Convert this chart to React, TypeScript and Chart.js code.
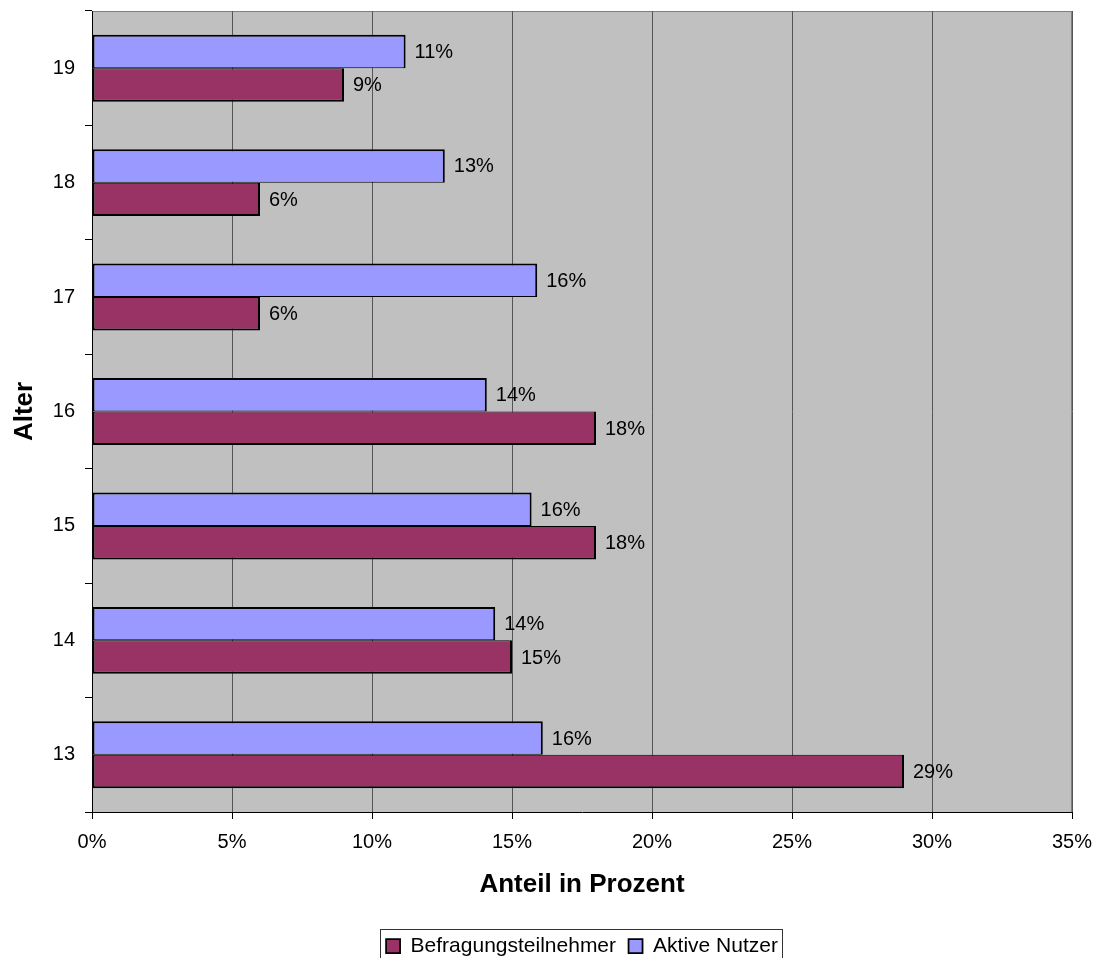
import React, { useEffect, useRef } from "react";
import { Chart, registerables } from "chart.js";

Chart.register(...registerables);

// Age groups (bottom to top) and shares in percent
const ages = ["13", "14", "15", "16", "17", "18", "19"];
const aktiveNutzer = [16.1, 14.4, 15.7, 14.1, 15.9, 12.6, 11.2];
const befragungsteilnehmer = [29.0, 15.0, 18.0, 18.0, 6.0, 6.0, 9.0];
const seriesNames = ["Aktive Nutzer", "Befragungsteilnehmer"];
const xTicks = [0, 5, 10, 15, 20, 25, 30, 35];

const FONT = "'Liberation Sans', Arial, sans-serif";

// Grey plot background plus a thin frame along the top and right edges
const plotBackground = {
  id: "plotBackground",
  beforeDraw(chart: any) {
    const { ctx, chartArea: a } = chart;
    ctx.save();
    ctx.fillStyle = "#C0C0C0";
    ctx.fillRect(a.left, a.top, a.right - a.left, a.bottom - a.top);
    ctx.strokeStyle = "#808080";
    ctx.lineWidth = 1;
    ctx.beginPath();
    ctx.moveTo(a.left, a.top + 0.5);
    ctx.lineTo(a.right, a.top + 0.5);
    ctx.moveTo(a.right - 0.5, a.top);
    ctx.lineTo(a.right - 0.5, a.bottom);
    ctx.stroke();
    ctx.restore();
  },
};

// Percentage labels to the right of each bar
const valueLabels = {
  id: "valueLabels",
  afterDatasetsDraw(chart: any) {
    const { ctx } = chart;
    ctx.save();
    ctx.font = `20px ${FONT}`;
    ctx.fillStyle = "#000";
    ctx.textAlign = "left";
    ctx.textBaseline = "middle";
    chart.data.datasets.forEach((ds: any, di: number) => {
      const meta = chart.getDatasetMeta(di);
      meta.data.forEach((bar: any, i: number) => {
        const v = ds.data[i];
        ctx.fillText(`${Math.round(v)}%`, bar.x + 9, bar.y + 1);
      });
    });
    ctx.restore();
  },
};

// Frame around the legend row
const legendFrame = {
  id: "legendFrame",
  afterDraw(chart: any) {
    const lg = chart.legend;
    if (!lg || !lg.legendHitBoxes || !lg.legendHitBoxes.length) return;
    const boxes = lg.legendHitBoxes;
    const left = Math.min(...boxes.map((b: any) => b.left)) - 6;
    const right = Math.max(...boxes.map((b: any) => b.left + b.width)) + 4;
    const { ctx } = chart;
    ctx.save();
    ctx.strokeStyle = "#333";
    ctx.lineWidth = 1;
    ctx.strokeRect(Math.round(left) + 0.5, 929.5, Math.round(right - left), 40);
    ctx.restore();
  },
};

// Drop the automatic label overhang padding so the layout padding alone sets the plot edges
const noScalePadding = (scale: any) => {
  scale.paddingTop = 0;
  scale.paddingBottom = 0;
  scale.paddingLeft = 0;
  scale.paddingRight = 0;
};

export default function App() {
  const canvasRef = useRef<HTMLCanvasElement | null>(null);

  useEffect(() => {
    if (!canvasRef.current) return;
    Chart.defaults.color = "#000";
    Chart.defaults.font.family = FONT;

    const chart = new Chart(canvasRef.current, {
      type: "bar",
      data: {
        labels: ages,
        datasets: [
          {
            label: seriesNames[0],
            data: aktiveNutzer,
            backgroundColor: "#9999FF",
            borderColor: "#000",
            borderWidth: { top: 2, right: 2, bottom: 1, left: 2 },
            borderSkipped: false,
          },
          {
            label: seriesNames[1],
            data: befragungsteilnehmer,
            backgroundColor: "#993366",
            borderColor: "#000",
            borderWidth: { top: 1, right: 2, bottom: 2, left: 2 },
            borderSkipped: false,
          },
        ],
      },
      options: {
        indexAxis: "y",
        responsive: false,
        animation: false,
        layout: { padding: { top: 11, right: 29, left: 0, bottom: 0 } },
        datasets: {
          bar: { categoryPercentage: 0.585, barPercentage: 1 },
        },
        scales: {
          x: {
            type: "linear",
            min: xTicks[0],
            max: xTicks[xTicks.length - 1],
            afterBuildTicks: (scale: any) => {
              scale.ticks = xTicks.map((v) => ({ value: v }));
            },
            afterFit: (scale: any) => {
              scale.height = 111;
              noScalePadding(scale);
            },
            ticks: {
              font: { size: 20, family: FONT },
              color: "#000",
              padding: 11,
              callback: (v: any) => `${v}%`,
            },
            grid: {
              color: "#555",
              lineWidth: 1,
              tickLength: 7,
              tickColor: "#000",
              drawOnChartArea: true,
            },
            border: { display: true, color: "#000", width: 1 },
            title: {
              display: true,
              text: "Anteil in Prozent",
              font: { size: 26, weight: "bold", family: FONT },
              color: "#000",
              padding: { top: 0, bottom: 22.5 },
            },
          },
          y: {
            type: "category",
            reverse: true,
            offset: true,
            afterFit: (scale: any) => {
              scale.width = 92;
              noScalePadding(scale);
            },
            ticks: {
              font: { size: 20, family: FONT },
              color: "#000",
              padding: 10,
            },
            grid: {
              offset: true,
              drawOnChartArea: false,
              drawTicks: true,
              tickLength: 7,
              color: "#000",
              tickColor: "#000",
            },
            border: { display: true, color: "#000", width: 1 },
            title: {
              display: true,
              text: "Alter",
              font: { size: 26, weight: "bold", family: FONT },
              color: "#000",
              padding: { top: 9.4, bottom: 0 },
            },
          },
        },
        plugins: {
          tooltip: { enabled: false },
          legend: {
            display: true,
            position: "bottom",
            fullSize: false,
            maxHeight: 35,
            labels: {
              font: { size: 21, family: FONT },
              color: "#000",
              boxWidth: 14,
              boxHeight: 14,
              padding: 12.5,
              sort: (a: any, b: any) => b.datasetIndex - a.datasetIndex,
            },
          },
        },
      },
      plugins: [plotBackground, valueLabels, legendFrame],
    } as any);

    return () => chart.destroy();
  }, []);

  return (
    <div style={{ position: "absolute", left: 0, top: 0, width: 1101, height: 958, background: "#fff" }}>
      <canvas ref={canvasRef} width={1101} height={958} style={{ display: "block" }} />
    </div>
  );
}
